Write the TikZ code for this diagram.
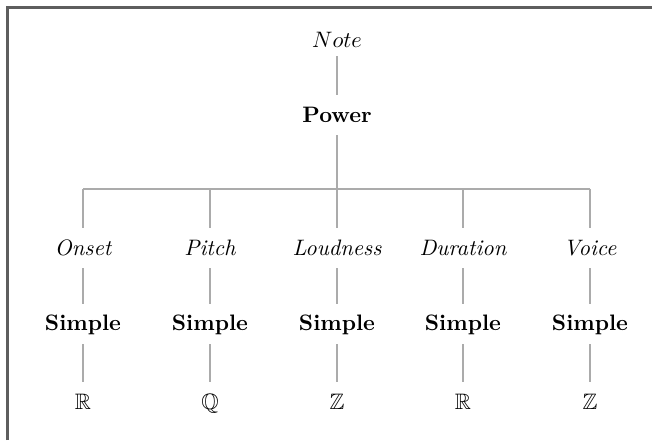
\documentclass[tikz,border=0pt]{standalone}
\usepackage{amsmath}
\usepackage{amssymb}
\usepackage{tikz}
\usetikzlibrary{
arrows.meta,
positioning
}
\definecolor{TreeLine}{HTML}{ABABAB}
\definecolor{TreeFrame}{HTML}{5E5E5E}
\tikzset{
treelabel/.style={anchor=base, inner sep=3.33pt, text height=8.6pt, text depth=2.4pt,
  font=\normalsize\itshape},
treetype/.style={anchor=base, inner sep=3.33pt, text height=8.6pt, text depth=2.4pt,
  font=\normalsize\bfseries},
treeset/.style={anchor=base, inner sep=3.33pt, text height=8.6pt, text depth=2.4pt,
  font=\normalsize},
treeedge/.style={draw=TreeLine, line width=0.6pt},
treeframe/.style={draw=TreeFrame, line width=1pt}
}

\begin{document}
\begin{tikzpicture}
\useasboundingbox (0,0) rectangle (10.25,-6.92);
\draw[treeframe] (0.118,-6.92) |- (10.25,-0.118);

\node[treelabel, text depth=0.5pt] (note) at (5.298,-0.739) {$Note$};
\node[treetype] (power) at (5.298,-1.918) {Power};

\coordinate (b1) at (1.305,-2.971);
\coordinate (b2) at (3.301,-2.971);
\coordinate (b3) at (5.298,-2.971);
\coordinate (b4) at (7.278,-2.971);
\coordinate (b5) at (9.275,-2.971);

\node[treelabel] (onset) at (1.305,-4.009) {Onset};
\node[treelabel] (pitch) at (3.301,-4.009) {Pitch};
\node[treelabel] (loud) at (5.298,-4.009) {Loudness};
\node[treelabel] (dur) at (7.278,-4.009) {Duration};
\node[treelabel] (voice) at (9.275,-4.009) {Voice};

\node[treetype] (s1) at (1.305,-5.203) {Simple};
\node[treetype] (s2) at (3.301,-5.203) {Simple};
\node[treetype] (s3) at (5.298,-5.203) {Simple};
\node[treetype] (s4) at (7.278,-5.203) {Simple};
\node[treetype] (s5) at (9.275,-5.203) {Simple};

\node[treeset] (r1) at (1.305,-6.430) {$\mathbb{R}$};
\node[treeset] (q2) at (3.301,-6.430) {$\mathbb{Q}$};
\node[treeset] (z3) at (5.298,-6.430) {$\mathbb{Z}$};
\node[treeset] (r4) at (7.278,-6.430) {$\mathbb{R}$};
\node[treeset] (z5) at (9.275,-6.430) {$\mathbb{Z}$};

\draw[treeedge] (note) -- (power);
\draw[treeedge] (power) -- (b3);
\draw[treeedge] (b1) -- (b5);
\draw[treeedge] (b1) -- (onset);
\draw[treeedge] (b2) -- (pitch);
\draw[treeedge] (b3) -- (loud);
\draw[treeedge] (b4) -- (dur);
\draw[treeedge] (b5) -- (voice);
\draw[treeedge] (onset) -- (s1);
\draw[treeedge] (pitch) -- (s2);
\draw[treeedge] (loud) -- (s3);
\draw[treeedge] (dur) -- (s4);
\draw[treeedge] (voice) -- (s5);
\draw[treeedge] (s1) -- (r1);
\draw[treeedge] (s2) -- (q2);
\draw[treeedge] (s3) -- (z3);
\draw[treeedge] (s4) -- (r4);
\draw[treeedge] (s5) -- (z5);
\end{tikzpicture}
\end{document}
